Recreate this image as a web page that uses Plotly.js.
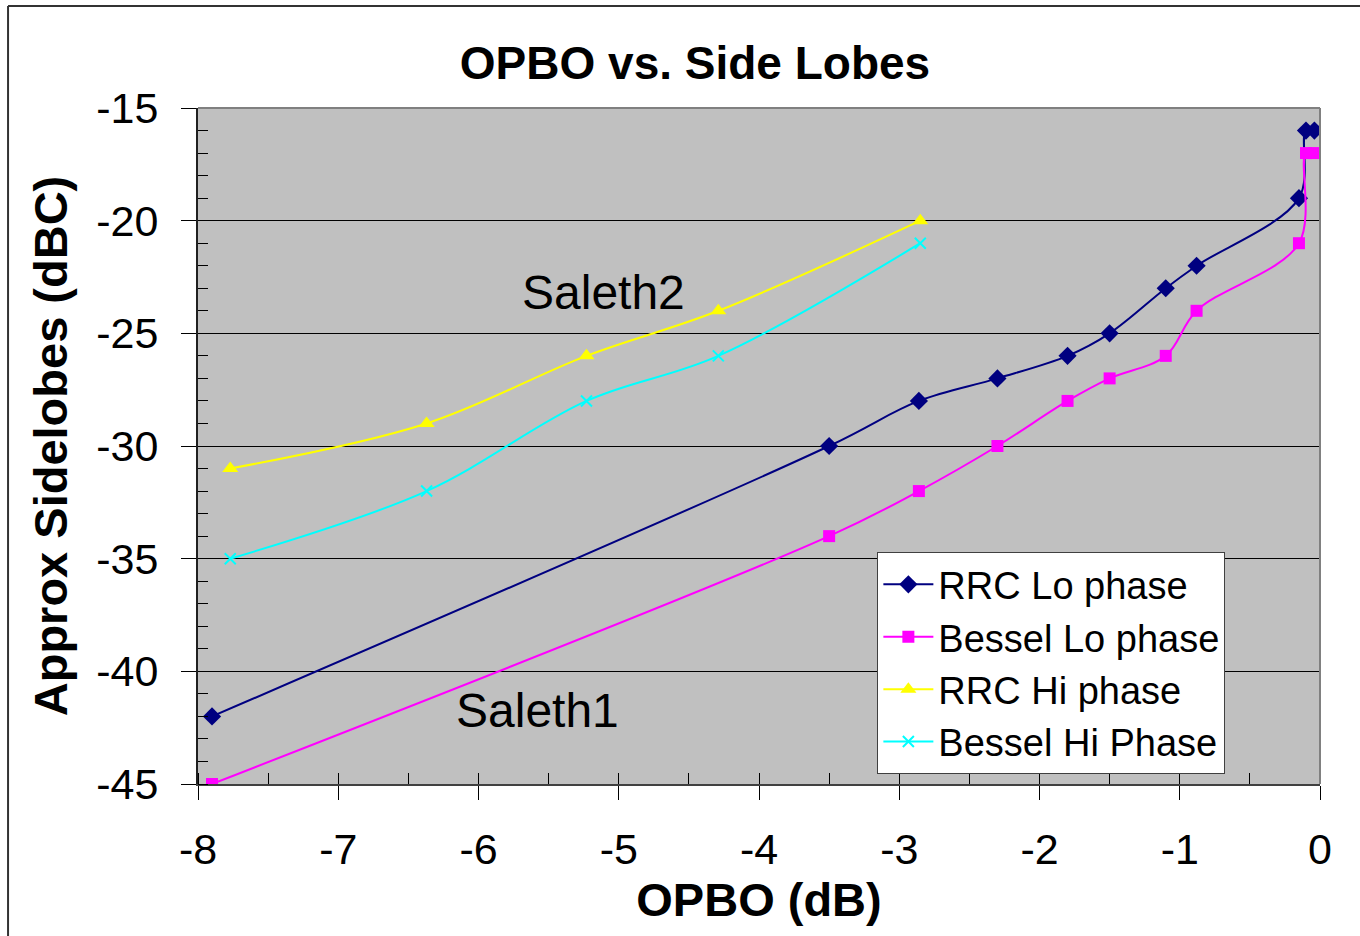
<!DOCTYPE html>
<html>
<head>
<meta charset="utf-8">
<script src="https://cdn.plot.ly/plotly-3.0.1.min.js"></script>
<style>html,body{margin:0;padding:0;background:#fff;}#chart{width:1360px;height:936px;}</style>
</head>
<body>
<div id="chart"></div>
<script>
// ---- data ----
const loX = [-7.90, -3.50, -2.86, -2.30, -1.80, -1.50, -1.10, -0.88, -0.15, -0.10, -0.04];
const rrcLoY = [-42, -30, -28, -27, -26, -25, -23, -22, -19, -16, -16];
const besselLoY = [-45, -34, -32, -30, -28, -27, -26, -24, -21, -17, -17];
const hiX = [-7.77, -6.37, -5.23, -4.29, -2.85];
const rrcHiY = [-31, -29, -26, -24, -20];
const besselHiY = [-35, -32, -28, -26, -21];
const seriesNames = ["RRC Lo phase", "Bessel Lo phase", "RRC Hi phase", "Bessel Hi Phase"];
const xTicks = [-8, -7, -6, -5, -4, -3, -2, -1, 0];
const yTicks = [-15, -20, -25, -30, -35, -40, -45];

const FONT = "Arial, 'Liberation Sans', sans-serif";

function mk(x, y, name, color, symbol, size) {
  return {
    x: x, y: y, name: name, type: "scatter", mode: "lines+markers",
    line: {color: color, width: 2, shape: "spline", smoothing: 1},
    marker: {color: color, symbol: symbol, size: size, line: {color: color, width: symbol === "x-thin" ? 2 : 0}},
    xaxis: "x", yaxis: "y"
  };
}

const traces = [
  mk(loX, rrcLoY, seriesNames[0], "#000080", "diamond", 14),
  mk(loX, besselLoY, seriesNames[1], "#ff00ff", "square", 12),
  mk(hiX, rrcHiY, seriesNames[2], "#ffff00", "triangle-up", 14),
  mk(hiX, besselHiY, seriesNames[3], "#00ffff", "x-thin", 11),
  // invisible helper trace to anchor overlay axes (inside major ticks)
  {x: [-8, 0], y: [-45, -15], type: "scatter", mode: "none", showlegend: false, hoverinfo: "skip", xaxis: "x2", yaxis: "y2"}
];

const layout = {
  width: 1360, height: 936,
  margin: {l: 198, r: 40, t: 108, b: 152},
  paper_bgcolor: "#ffffff",
  plot_bgcolor: "#c0c0c0",
  font: {family: FONT, color: "#000"},
  title: {
    text: "<b>OPBO vs. Side Lobes</b>",
    font: {family: FONT, size: 46, color: "#000"},
    x: 695 / 1360, xanchor: "center", xref: "container",
    y: 1 - 63 / 936, yanchor: "middle", yref: "container"
  },
  showlegend: true,
  legend: {
    x: 0.6055, y: 0.343, xanchor: "left", yanchor: "top",
    bgcolor: "#ffffff", bordercolor: "#404040", borderwidth: 1,
    font: {family: FONT, size: 38, color: "#000"},
    tracegroupgap: 0, itemwidth: 50
  },
  xaxis: {
    range: [-8, 0], tickvals: xTicks, ticktext: xTicks.map(String),
    showgrid: false, zeroline: false,
    showline: true, linecolor: "#404040", linewidth: 2,
    ticks: "outside", ticklen: 14, tickwidth: 1, tickcolor: "#000",
    tickfont: {family: FONT, size: 43, color: "#000"},
    ticklabelstandoff: 12,
    minor: {dtick: 0.5, tick0: 0, ticks: "inside", ticklen: 11, tickcolor: "#000", tickwidth: 1, showgrid: false},
    title: {text: "<b>OPBO (dB)</b>", font: {family: FONT, size: 47, color: "#000"}, standoff: 4}
  },
  yaxis: {
    range: [-45, -15], tickvals: yTicks, ticktext: yTicks.map(String),
    showgrid: true, gridcolor: "#000000", gridwidth: 1,
    zeroline: false,
    showline: true, linecolor: "#202020", linewidth: 2,
    ticks: "outside", ticklen: 15, tickwidth: 1, tickcolor: "#000",
    tickfont: {family: FONT, size: 43, color: "#000"},
    ticklabelstandoff: 14,
    minor: {dtick: 1, tick0: 0, ticks: "inside", ticklen: 10, tickcolor: "#000", tickwidth: 1, showgrid: false},
    title: {text: "<b>Approx Sidelobes (dBC)</b>", font: {family: FONT, size: 47, color: "#000"}, standoff: 14}
  },
  xaxis2: {
    overlaying: "x", matches: "x", range: [-8, 0], side: "bottom", anchor: "y2",
    tickvals: xTicks, showticklabels: false, showgrid: false, zeroline: false, showline: false,
    ticks: "inside", ticklen: 11, tickcolor: "#000", tickwidth: 1
  },
  yaxis2: {
    overlaying: "y", matches: "y", range: [-45, -15], side: "left", anchor: "x2",
    tickvals: yTicks, showticklabels: false, showgrid: false, zeroline: false, showline: false,
    ticks: "inside", ticklen: 10, tickcolor: "#000", tickwidth: 1
  },
  annotations: [
    {text: "Saleth2", xref: "x", yref: "y", x: -5.11, y: -23.2, showarrow: false,
     font: {family: FONT, size: 48, color: "#000"}, xanchor: "center", yanchor: "middle"},
    {text: "Saleth1", xref: "x", yref: "y", x: -5.58, y: -41.75, showarrow: false,
     font: {family: FONT, size: 48, color: "#000"}, xanchor: "center", yanchor: "middle"}
  ],
  shapes: [
    // plot-area top and right border (gray)
    {type: "line", xref: "paper", yref: "paper", x0: 0, x1: 1, y0: 1, y1: 1, line: {color: "#808080", width: 2}},
    {type: "line", xref: "paper", yref: "paper", x0: 1, x1: 1, y0: 0, y1: 1, line: {color: "#808080", width: 2}},
    // outer figure frame (top and left edges visible)
    {type: "line", xref: "paper", yref: "paper", x0: -0.1693, x1: 1.05, y0: 1.1509, y1: 1.1509, line: {color: "#333333", width: 2}},
    {type: "line", xref: "paper", yref: "paper", x0: -0.1693, x1: -0.1693, y0: 1.1509, y1: -0.25, line: {color: "#333333", width: 2}}
  ]
};

Plotly.newPlot("chart", traces, layout, {displayModeBar: false, staticPlot: true});
</script>
</body>
</html>
